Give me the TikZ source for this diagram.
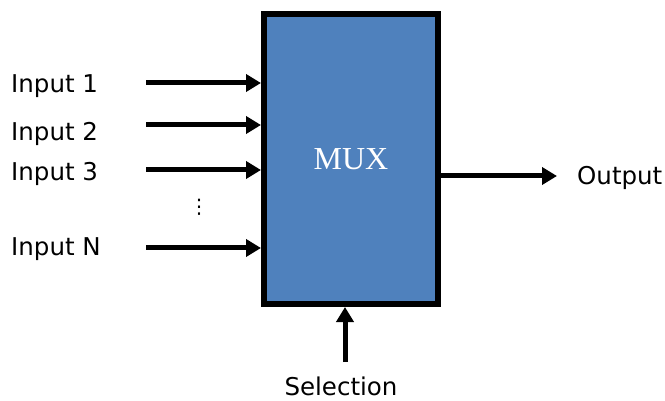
\documentclass[tikz,border=0pt]{standalone}
\usepackage{fontspec}
\setmainfont{DejaVu Sans}
\newfontfamily\muxfont{Liberation Serif}
\usepackage{tikz}
\usetikzlibrary{arrows.meta,positioning,calc}
\definecolor{muxblue}{HTML}{4F81BD}

\begin{document}
\begin{tikzpicture}[
    x=1pt, y=-1pt,
    font=\fontsize{24.5}{28}\selectfont,
    block/.style={draw, line width=6pt, fill=muxblue, minimum width=174pt,
                  minimum height=290pt, inner sep=0pt,
                  font=\muxfont\fontsize{32}{36}\selectfont, text=white},
    lbl/.style={anchor=base west, inner sep=0pt},
    arr/.style={-{Triangle[length=15pt,width=17pt]}, line width=5pt}
]
  \useasboundingbox (0,0) rectangle (665,401);
  \node[block] (mux) at (351,159) {MUX};

  % input labels
  \node[lbl] (lin1) at (11,93) {Input 1};
  \node[lbl] (lin2) at (11,141) {Input 2};
  \node[lbl] (lin3) at (11,181) {Input 3};
  \node[lbl] (linN) at (11,256) {Input N};
  \node[inner sep=0pt] (dots) at (199,207) {\fontsize{20}{22}\selectfont ⋮};

  % arrow starts
  \coordinate (in1) at (146,83);
  \coordinate (in2) at (146,125);
  \coordinate (in3) at (146,170);
  \coordinate (inN) at (146,248);
  \coordinate (out) at (557,176);
  \coordinate (sel) at (345,362);

  \node[lbl] (lout) at (577,185) {Output};
  \node[anchor=base, inner sep=0pt] (lsel) at (341,395) {Selection};

  \draw[arr] (in1) -- (in1 -| mux.west);
  \draw[arr] (in2) -- (in2 -| mux.west);
  \draw[arr] (in3) -- (in3 -| mux.west);
  \draw[arr] (inN) -- (inN -| mux.west);
  \draw[arr] (out -| mux.east) -- (out);
  \draw[arr] (sel) -- (sel |- mux.south);
\end{tikzpicture}
\end{document}
